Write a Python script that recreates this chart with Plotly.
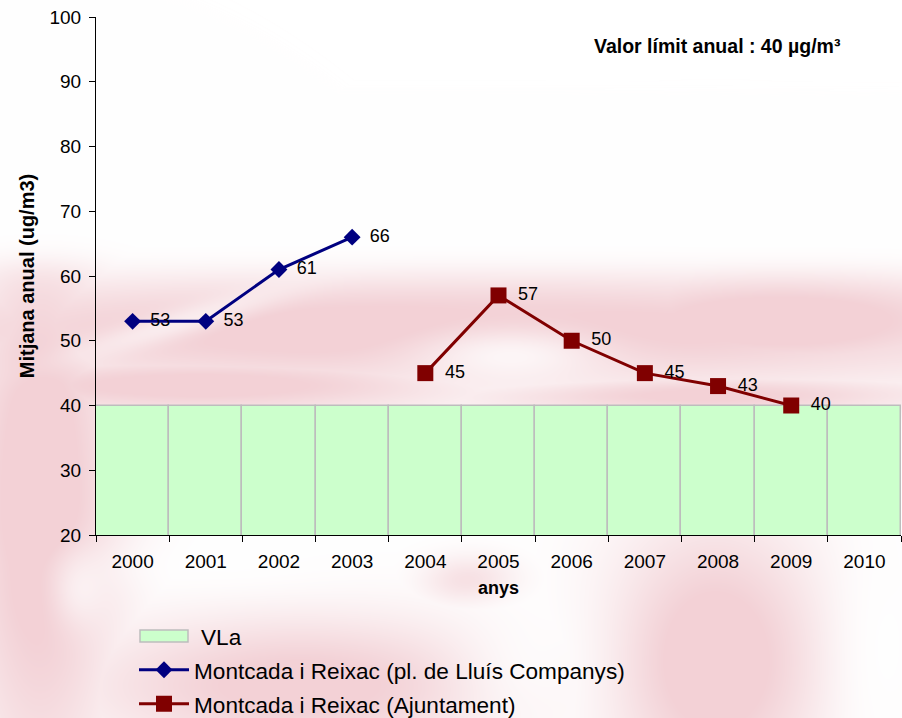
import base64
import struct
import zlib

import numpy as np
import plotly.graph_objects as go

# ---- data -------------------------------------------------------------
years = ["2000", "2001", "2002", "2003", "2004", "2005",
         "2006", "2007", "2008", "2009", "2010"]
limit_value = [40] * len(years)

placa_years = ["2000", "2001", "2002", "2003"]
placa_values = [53, 53, 61, 66]

ajuntament_years = ["2004", "2005", "2006", "2007", "2008", "2009"]
ajuntament_values = [45, 57, 50, 45, 43, 40]

y_ticks = [20, 30, 40, 50, 60, 70, 80, 90, 100]

FONT = "Liberation Sans, Arial, sans-serif"
W, H = 902, 718
ML, MR, MT, MB = 96, 1, 17, 183
PW, PH = W - ML - MR, H - MT - MB


def px_x(x):
    return (x - ML) / PW


def px_y(y):
    return (H - MB - y) / PH


# ---- soft pink backdrop (rendered to a small PNG) ---------------------
def backdrop_png(w, h):
    yy, xx = np.mgrid[0:h, 0:w].astype(float)

    def blob(cx, cy, sx, sy, amp, rot=0.0):
        c, s = np.cos(rot), np.sin(rot)
        dx, dy = xx - cx, yy - cy
        u = c * dx + s * dy
        v = -s * dx + c * dy
        return amp * np.exp(-((u / sx) ** 2 + (v / sy) ** 2))

    pinks = [
        (450, 330, 700, 60, 0.95, 0.0),
        (780, 320, 230, 50, 1.0, 0.0),
        (700, 395, 250, 20, 0.85, 0.0),
        (200, 385, 300, 30, 0.9, 0.0),
        (40, 500, 80, 300, 1.0, 0.0),
        (300, 685, 220, 70, 0.9, 0.0),
        (715, 660, 110, 140, 1.0, 0.0),
        (470, 580, 50, 25, 0.6, 0.0),
    ]
    a = np.zeros((h, w))
    for p in pinks:
        a = np.maximum(a, blob(*p))
    whites = [
        (180, 322, 120, 15, 0.6, -0.3),
        (510, 355, 100, 30, 0.8, 0.0),
        (880, 650, 45, 140, 0.85, 0.0),
        (530, 660, 70, 80, 0.7, 0.0),
        (230, 565, 130, 28, 0.7, 0.0),
        (80, 590, 30, 40, 0.6, 0.0),
    ]
    for wb in whites:
        a = a * (1 - blob(*wb))
    a = a / (1 + np.exp(-(yy - 262) / 9))
    a = np.clip(a * 1.25, 0, 1)
    pink = np.array([243, 209, 214], dtype=float)
    rgb = 255 * (1 - a[..., None]) + pink * a[..., None]
    rgb = rgb.astype(np.uint8)
    raw = b"".join(b"\x00" + rgb[r].tobytes() for r in range(h))

    def chunk(tag, data):
        c = struct.pack(">I", len(data)) + tag + data
        return c + struct.pack(">I", zlib.crc32(tag + data) & 0xFFFFFFFF)

    png = b"\x89PNG\r\n\x1a\n"
    png += chunk(b"IHDR", struct.pack(">IIBBBBB", w, h, 8, 2, 0, 0, 0))
    png += chunk(b"IDAT", zlib.compress(raw, 9))
    png += chunk(b"IEND", b"")
    return "data:image/png;base64," + base64.b64encode(png).decode()


# ---- figure -----------------------------------------------------------
fig = go.Figure()

fig.add_trace(go.Bar(
    x=years, y=limit_value, name="VLa", showlegend=False,
    marker=dict(color="#CCFFCC", line=dict(color="#BDBDBD", width=1.5)),
    hoverinfo="skip",
))

# legend label for the limit band; its swatch is drawn as a layout shape
fig.add_trace(go.Scatter(
    x=[None], y=[None], name="VLa", mode="lines",
    line=dict(color="rgba(0,0,0,0)", width=1), legend="legend",
))

label_pad = "\u00a0\u2009"

fig.add_trace(go.Scatter(
    x=placa_years, y=placa_values,
    name="Montcada i Reixac (pl. de Lluís Companys)",
    mode="lines+markers+text",
    line=dict(color="#000080", width=3),
    marker=dict(symbol="diamond", size=13, color="#000080"),
    text=[label_pad + str(v) for v in placa_values],
    textposition="middle right",
    textfont=dict(family=FONT, size=18, color="black"),
    legend="legend2",
))

fig.add_trace(go.Scatter(
    x=ajuntament_years, y=ajuntament_values,
    name="Montcada i Reixac (Ajuntament)",
    mode="lines+markers+text",
    line=dict(color="#800000", width=3),
    marker=dict(symbol="square", size=16, color="#800000"),
    text=[label_pad + str(v) for v in ajuntament_values],
    textposition="middle right",
    textfont=dict(family=FONT, size=18, color="black"),
    legend="legend3",
))

legend_common = dict(
    font=dict(family=FONT, size=22.6, color="black"),
    bgcolor="rgba(0,0,0,0)", borderwidth=0,
    xanchor="left", yanchor="middle", itemwidth=50,
)

fig.update_layout(
    width=W, height=H,
    margin=dict(l=ML, r=MR, t=MT, b=MB, autoexpand=False),
    paper_bgcolor="white",
    plot_bgcolor="rgba(0,0,0,0)",
    font=dict(family=FONT, size=19, color="black"),
    bargap=0,
    showlegend=True,
    legend=dict(x=px_x(141), y=px_y(636), **legend_common),
    legend2=dict(x=px_x(134), y=px_y(670), **legend_common),
    legend3=dict(x=px_x(134), y=px_y(704), **legend_common),
    xaxis=dict(
        type="category", categoryorder="array", categoryarray=years,
        range=[-0.5, len(years) - 0.5],
        tickson="boundaries", ticks="outside", ticklen=6,
        tickcolor="black", showline=True, linecolor="black", linewidth=1,
        showgrid=False, zeroline=False, ticklabelstandoff=9,
        tickfont=dict(family=FONT, size=19),
        title=dict(text="<b>anys</b>", font=dict(family=FONT, size=18),
                   standoff=10),
    ),
    yaxis=dict(
        range=[20, 100], tickvals=y_ticks,
        ticks="outside", ticklen=6, tickcolor="black",
        showline=True, linecolor="black", linewidth=1,
        showgrid=False, zeroline=False, ticklabelstandoff=4,
        tickfont=dict(family=FONT, size=19),
        title=dict(text="<b>Mitjana anual (ug/m3)</b>",
                   font=dict(family=FONT, size=20), standoff=9),
    ),
    annotations=[dict(
        text="<b>Valor límit anual : 40 µg/m³</b>",
        xref="paper", yref="paper", x=px_x(717), y=px_y(46),
        xanchor="center", yanchor="middle", showarrow=False,
        font=dict(family=FONT, size=19.5, color="black"),
    )],
    shapes=[dict(
        type="rect", xref="paper", yref="paper",
        x0=px_x(140), x1=px_x(188), y0=px_y(642), y1=px_y(630),
        line=dict(color="#BDBDBD", width=1.5), fillcolor="#CCFFCC",
    )],
    images=[dict(
        source=backdrop_png(W, H), xref="paper", yref="paper",
        x=px_x(0), y=px_y(0), sizex=W / PW, sizey=H / PH,
        xanchor="left", yanchor="top", sizing="stretch", layer="below",
    )],
)

fig.write_html("out.html")
